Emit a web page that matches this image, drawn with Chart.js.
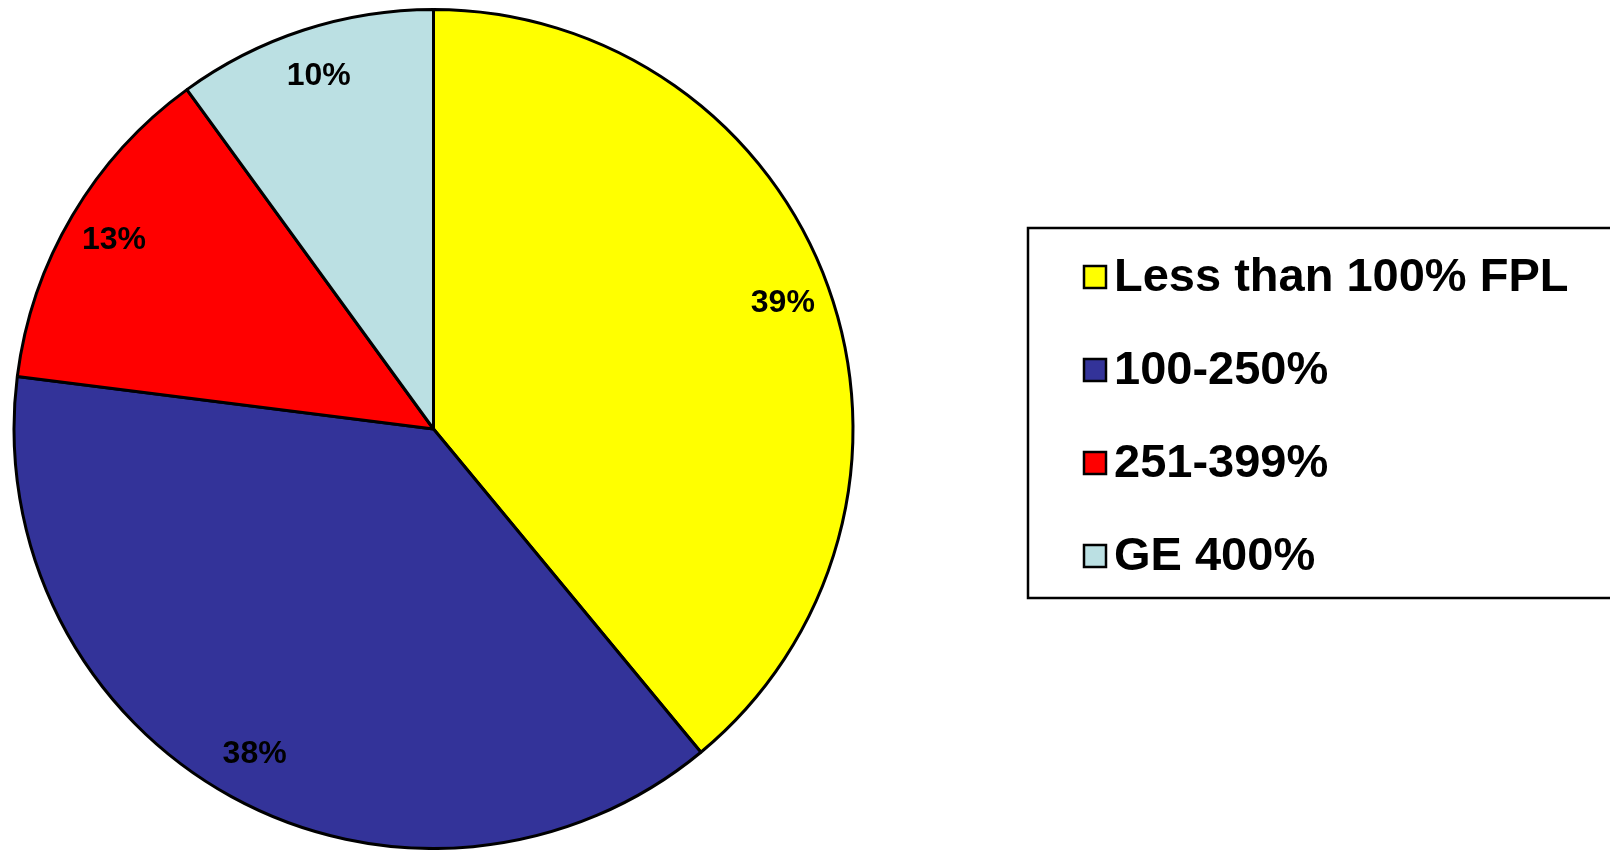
<!DOCTYPE html>
<html>
<head>
<meta charset="utf-8">
<title>Income distribution by FPL</title>
<script src="https://cdn.jsdelivr.net/npm/chart.js@4/dist/chart.umd.min.js"></script>
<style>
  html, body { margin: 0; padding: 0; background: #fff; }
  #wrap { width: 1610px; height: 850px; position: relative; }
</style>
</head>
<body>
<div id="wrap"><canvas id="fplPieChart" width="1610" height="850"></canvas></div>
<script>
// Pie data
const categories = ['Less than 100% FPL', '100-250%', '251-399%', 'GE 400%'];
const shares = [39, 38, 13, 10];
const sliceColors = ['#ffff00', '#333399', '#ff0000', '#bbe0e3'];

// Draws the "nn%" label inside each slice
const sliceLabels = {
    id: 'sliceLabels',
    afterDatasetsDraw(chart) {
        const ctx = chart.ctx;
        const meta = chart.getDatasetMeta(0);
        ctx.save();
        ctx.font = 'bold 32px "Liberation Sans", Arial, sans-serif';
        ctx.fillStyle = '#000';
        ctx.textAlign = 'center';
        ctx.textBaseline = 'middle';
        meta.data.forEach(function (arc, i) {
            const p = arc.getProps(['x', 'y', 'startAngle', 'endAngle', 'outerRadius'], true);
            const mid = (p.startAngle + p.endAngle) / 2;
            const r = p.outerRadius * 0.885;
            ctx.fillText(shares[i] + '%', p.x + Math.cos(mid) * r, p.y + Math.sin(mid) * r);
        });
        ctx.restore();
    }
};

// Boxed legend on the right
const boxLegend = {
    id: 'boxLegend',
    afterDraw(chart) {
        const ctx = chart.ctx;
        ctx.save();
        ctx.lineWidth = 2.5;
        ctx.strokeStyle = '#000';
        ctx.strokeRect(1028, 228, 600, 370);
        ctx.font = 'bold 47px "Liberation Sans", Arial, sans-serif';
        ctx.textBaseline = 'middle';
        ctx.textAlign = 'left';
        categories.forEach(function (label, i) {
            const y = 277 + i * 93;
            ctx.fillStyle = sliceColors[i];
            ctx.fillRect(1084, y - 11, 22, 22);
            ctx.lineWidth = 2.5;
            ctx.strokeRect(1084, y - 11, 22, 22);
            ctx.fillStyle = '#000';
            ctx.fillText(label, 1114, y + 1);
        });
        ctx.restore();
    }
};

const ctxPie = document.getElementById('fplPieChart').getContext('2d');
const fplPieChart = new Chart(ctxPie, {
    type: 'pie',
    data: {
        labels: categories,
        datasets: [{
            data: shares,
            backgroundColor: sliceColors,
            borderColor: '#000',
            borderWidth: 3
        }]
    },
    options: {
        responsive: false,
        animation: false,
        layout: {
            padding: { left: 12, right: 755, top: 8, bottom: 0 }
        },
        plugins: {
            legend: { display: false },
            tooltip: { enabled: false }
        }
    },
    plugins: [sliceLabels, boxLegend]
});
</script>
</body>
</html>
